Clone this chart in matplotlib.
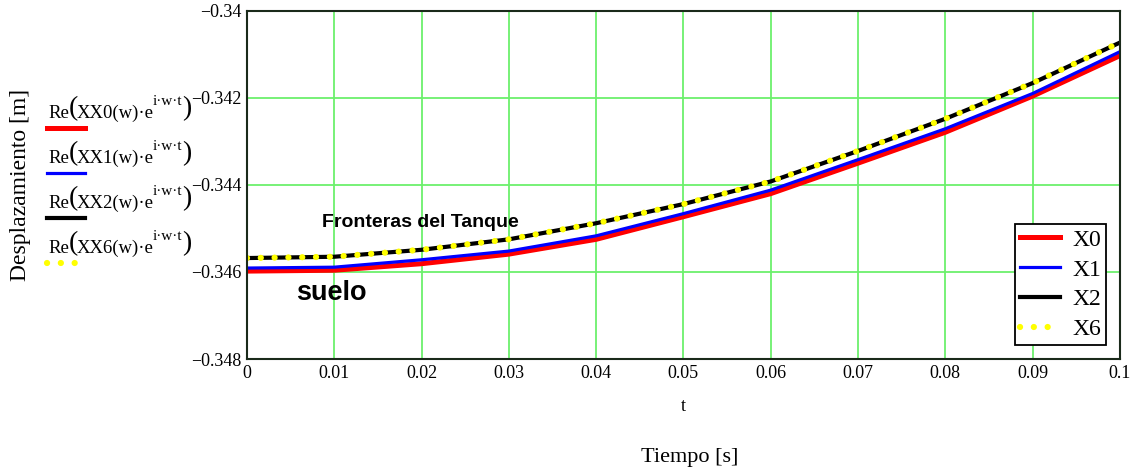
import numpy as np
import matplotlib.pyplot as plt
from matplotlib.lines import Line2D

plt.rcParams['font.family'] = ['Liberation Serif', 'DejaVu Serif']

# tiempo [s] y desplazamientos [m]
t = [0.00, 0.01, 0.02, 0.03, 0.04, 0.05, 0.06, 0.07, 0.08, 0.09, 0.10]
x0 = [-0.34598, -0.34596, -0.34581, -0.34559, -0.34525, -0.34473,
      -0.34420, -0.34350, -0.34279, -0.34196, -0.34103]
x1 = [-0.34591, -0.34589, -0.34572, -0.34552, -0.34517, -0.34466,
      -0.34412, -0.34342, -0.34271, -0.34190, -0.34094]
x2 = [-0.34568, -0.34565, -0.34549, -0.34525, -0.34488, -0.34444,
      -0.34392, -0.34322, -0.34248, -0.34166, -0.34073]
x6 = [-0.34568, -0.34565, -0.34549, -0.34525, -0.34488, -0.34444,
      -0.34392, -0.34322, -0.34248, -0.34166, -0.34073]

series_names = ['X0', 'X1', 'X2', 'X6']
expr_names = ['XX0', 'XX1', 'XX2', 'XX6']
x_ticks = [0, 0.01, 0.02, 0.03, 0.04, 0.05, 0.06, 0.07, 0.08, 0.09, 0.1]
x_ticklabels = ['0', '0.01', '0.02', '0.03', '0.04', '0.05', '0.06',
                '0.07', '0.08', '0.09', '0.1']
y_ticks = [-0.348, -0.346, -0.344, -0.342, -0.34]
y_ticklabels = ['\u22120.348', '\u22120.346', '\u22120.344', '\u22120.342', '\u22120.34']

fig = plt.figure(figsize=(11.38, 4.73), dpi=100)
ax = fig.add_axes([0.217, 0.241, 0.767, 0.736])

dot_style = (0, (0.01, 2.2))
ax.plot(t, x0, color='red', lw=3.6, label=series_names[0])
ax.plot(t, x1, color='blue', lw=2.3, label=series_names[1])
ax.plot(t, x2, color='black', lw=3.0, label=series_names[2])
ax.plot(t, x6, color='yellow', lw=4.5, linestyle=dot_style,
        dash_capstyle='round', label=series_names[3])

ax.set_xlim(0, 0.1)
ax.set_ylim(-0.348, -0.34)
ax.set_xticks(x_ticks)
ax.set_xticklabels(x_ticklabels)
ax.set_yticks(y_ticks)
ax.set_yticklabels(y_ticklabels)
ax.tick_params(length=0, labelsize=13, pad=4)
ax.grid(True, color='#6cf06c', lw=1.3)
for s in ax.spines.values():
    s.set_linewidth(1.5)
    s.set_color('#1a2a1a')

leg = ax.legend(loc='lower right', fontsize=17, fancybox=False,
                edgecolor='black', framealpha=1, handlelength=1.7,
                borderpad=0.2, labelspacing=0.35, handletextpad=0.5,
                borderaxespad=0.6)
leg.get_frame().set_linewidth(1.3)

ax.text(0.0086, -0.34497, 'Fronteras del Tanque', family='Liberation Sans',
        fontweight='bold', fontsize=14, va='baseline')
ax.text(0.0056, -0.34648, 'suelo', family='Liberation Sans',
        fontweight='bold', fontsize=19.5, va='center')

ax.set_xlabel('t', fontsize=13, labelpad=12)
fig.text(0.606, 0.033, 'Tiempo [s]', fontsize=16, ha='center', va='center')
fig.text(0.018, 0.61, 'Desplazamiento [m]', fontsize=17, rotation=90,
         ha='center', va='center')

# leyenda izquierda estilo Mathcad (piezas con parentesis grandes)
colors = ['red', 'blue', 'black', 'yellow']
widths = [3.6, 2.3, 3.0, 4.5]
text_y = [118, 163, 208, 253]
line_y = [128, 173, 218, 263]
W, H = 1138.0, 473.0
renderer = fig.canvas.get_renderer()
for i in range(4):
    xpx = 48.0
    ybase = text_y[i]
    pieces = [('Re', 13.5, 0, 0),
              ('(', 20, -3, -2),
              ('%s(w)\u00b7e' % expr_names[i], 13.5, 0, 0),
              ('i\u00b7w\u00b7t', 11, -13, 0),
              (')', 20, -3, 0)]
    for s, fs, dy, adv in pieces:
        tx = fig.text(xpx / W, 1 - (ybase + dy) / H, s, fontsize=fs,
                      va='baseline', ha='left')
        bb = tx.get_window_extent(renderer)
        xpx = bb.x1 + adv
    ls = dot_style if i == 3 else '-'
    fig.add_artist(Line2D([0.041, 0.075], [1 - line_y[i] / H] * 2,
                          color=colors[i], lw=widths[i], linestyle=ls,
                          dash_capstyle='round', transform=fig.transFigure))

fig.savefig('out.png', dpi=100)
